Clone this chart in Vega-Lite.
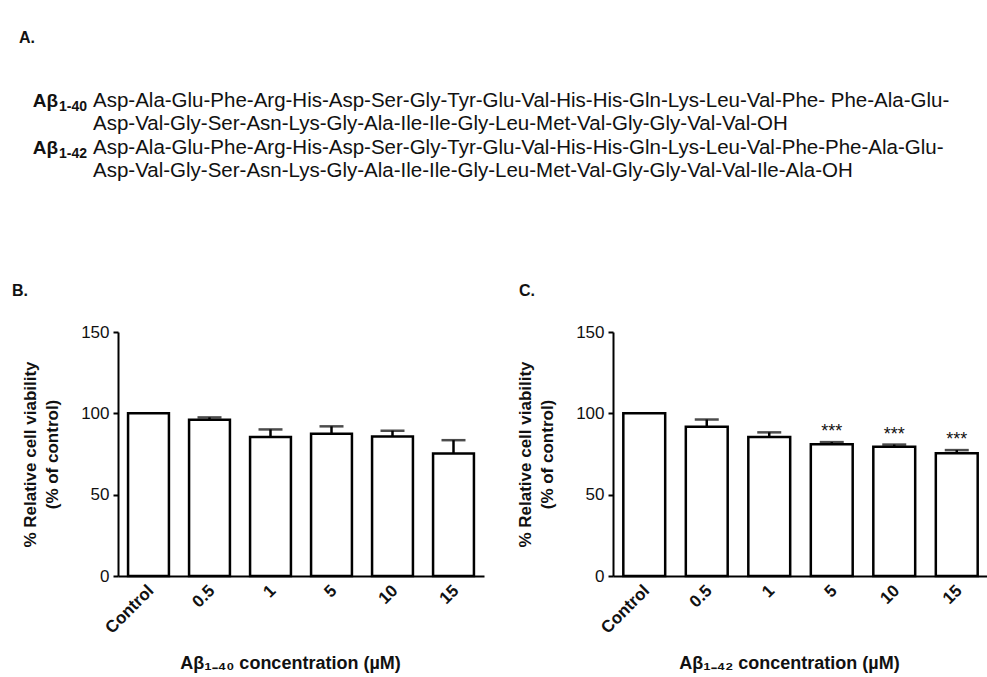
{
  "$schema": "https://vega.github.io/schema/vega-lite/v6.json",
  "background": "white",
  "padding": {"left": 12, "top": 30, "right": 0, "bottom": 0},
  "spacing": 97,
  "config": {
    "view": {"stroke": null},
    "font": "Liberation Sans",
    "axis": {
      "grid": false,
      "domainColor": "black",
      "domainWidth": 2,
      "tickColor": "black",
      "tickWidth": 2,
      "labelColor": "#111",
      "titleColor": "#111",
      "labelFont": "Liberation Sans",
      "titleFont": "Liberation Sans"
    },
    "title": {"font": "Liberation Sans", "color": "#111"}
  },
  "datasets": {
    "seqs": [
      {"line": 1, "label": "Aβ", "sub": "1-40", "seq": "Asp-Ala-Glu-Phe-Arg-His-Asp-Ser-Gly-Tyr-Glu-Val-His-His-Gln-Lys-Leu-Val-Phe- Phe-Ala-Glu-"},
      {"line": 2, "label": "", "sub": "", "seq": "Asp-Val-Gly-Ser-Asn-Lys-Gly-Ala-Ile-Ile-Gly-Leu-Met-Val-Gly-Gly-Val-Val-OH"},
      {"line": 3, "label": "Aβ", "sub": "1-42", "seq": "Asp-Ala-Glu-Phe-Arg-His-Asp-Ser-Gly-Tyr-Glu-Val-His-His-Gln-Lys-Leu-Val-Phe-Phe-Ala-Glu-"},
      {"line": 4, "label": "", "sub": "", "seq": "Asp-Val-Gly-Ser-Asn-Lys-Gly-Ala-Ile-Ile-Gly-Leu-Met-Val-Gly-Gly-Val-Val-Ile-Ala-OH"}
    ],
    "b": [
      {"conc": "Control", "mean": 100, "upper": null, "sig": ""},
      {"conc": "0.5", "mean": 96.1, "upper": 97.5, "sig": ""},
      {"conc": "1", "mean": 85.4, "upper": 90.1, "sig": ""},
      {"conc": "5", "mean": 87.5, "upper": 92.0, "sig": ""},
      {"conc": "10", "mean": 85.8, "upper": 89.3, "sig": ""},
      {"conc": "15", "mean": 75.3, "upper": 83.5, "sig": ""}
    ],
    "c": [
      {"conc": "Control", "mean": 100, "upper": null, "sig": ""},
      {"conc": "0.5", "mean": 91.7, "upper": 96.2, "sig": ""},
      {"conc": "1", "mean": 85.5, "upper": 88.3, "sig": ""},
      {"conc": "5", "mean": 81.0, "upper": 82.3, "sig": "***"},
      {"conc": "10", "mean": 79.4, "upper": 80.8, "sig": "***"},
      {"conc": "15", "mean": 75.4, "upper": 77.4, "sig": "***"}
    ]
  },
  "vconcat": [
    {
      "title": {"text": "A.", "anchor": "start", "frame": "group", "fontSize": 16, "fontWeight": "bold", "dx": -99, "offset": 40},
      "width": 780,
      "height": 100,
      "data": {"name": "seqs"},
      "encoding": {
        "y": {"field": "line", "type": "ordinal", "axis": null, "scale": {"type": "point", "padding": 0.65}}
      },
      "layer": [
        {
          "mark": {"type": "text", "align": "right", "baseline": "middle", "fontSize": 19, "fontWeight": "bold", "color": "#111"},
          "encoding": {"x": {"value": -60}, "text": {"field": "label"}}
        },
        {
          "mark": {"type": "text", "align": "left", "baseline": "middle", "fontSize": 14, "fontWeight": "bold", "dy": 6, "color": "#111"},
          "encoding": {"x": {"value": -59}, "text": {"field": "sub"}}
        },
        {
          "mark": {"type": "text", "align": "left", "baseline": "middle", "fontSize": 20.5, "color": "#111"},
          "encoding": {"x": {"value": -25}, "text": {"field": "seq"}}
        }
      ]
    },
    {
      "hconcat": [
        {
          "width": 366,
          "height": 244,
          "title": {"text": "B.", "anchor": "start", "frame": "bounds", "fontSize": 16, "fontWeight": "bold", "dx": -9, "offset": 24},
          "data": {"name": "b"},
          "encoding": {
            "x": {
              "field": "conc", "type": "nominal", "sort": ["Control", "0.5", "1", "5", "10", "15"],
              "scale": {"paddingInner": 0.33, "paddingOuter": 0.165},
              "axis": {"title": "Aβ₁₋₄₀ concentration (µM)", "titleX": 172, "ticks": false, "labelAngle": -45, "labelFontSize": 17, "labelFontWeight": "bold", "labelPadding": 6, "labelOffset": -3, "titleFontSize": 18, "titleFontWeight": "bold", "titlePadding": 18}
            }
          },
          "layer": [
            {
              "mark": {"type": "rule", "color": "black", "strokeWidth": 2.5},
              "encoding": {
                "y": {"field": "upper", "type": "quantitative", "scale": {"domain": [0, 150], "nice": false},
                  "axis": {"values": [0, 50, 100, 150], "tickSize": 5, "labelFontSize": 17, "labelPadding": 4, "title": ["% Relative cell viability", "(% of control)"], "titleFontSize": 17, "titleFontWeight": "bold", "titleLineHeight": 22, "titlePadding": 18, "minExtent": 39, "maxExtent": 39}},
                "y2": {"field": "mean"}
              }
            },
            {
              "mark": {"type": "tick", "color": "black", "thickness": 2.5, "size": 24, "orient": "horizontal"},
              "encoding": {"y": {"field": "upper", "type": "quantitative"}}
            },
            {
              "mark": {"type": "bar", "fill": "white", "stroke": "black", "strokeWidth": 2.5},
              "encoding": {"y": {"field": "mean", "type": "quantitative"}}
            }
          ]
        },
        {
          "width": 375,
          "height": 244,
          "title": {"text": "C.", "anchor": "start", "frame": "bounds", "fontSize": 16, "fontWeight": "bold", "dx": 3, "offset": 24},
          "data": {"name": "c"},
          "encoding": {
            "x": {
              "field": "conc", "type": "nominal", "sort": ["Control", "0.5", "1", "5", "10", "15"],
              "scale": {"paddingInner": 0.33, "paddingOuter": 0.165},
              "axis": {"title": "Aβ₁₋₄₂ concentration (µM)", "titleX": 176, "ticks": false, "labelAngle": -45, "labelFontSize": 17, "labelFontWeight": "bold", "labelPadding": 6, "labelOffset": -3, "titleFontSize": 18, "titleFontWeight": "bold", "titlePadding": 18}
            }
          },
          "layer": [
            {
              "mark": {"type": "rule", "color": "black", "strokeWidth": 2.5},
              "encoding": {
                "y": {"field": "upper", "type": "quantitative", "scale": {"domain": [0, 150], "nice": false},
                  "axis": {"values": [0, 50, 100, 150], "tickSize": 5, "labelFontSize": 17, "labelPadding": 4, "title": ["% Relative cell viability", "(% of control)"], "titleFontSize": 17, "titleFontWeight": "bold", "titleLineHeight": 22, "titlePadding": 18, "minExtent": 39, "maxExtent": 39}},
                "y2": {"field": "mean"}
              }
            },
            {
              "mark": {"type": "tick", "color": "black", "thickness": 2.5, "size": 24, "orient": "horizontal"},
              "encoding": {"y": {"field": "upper", "type": "quantitative"}}
            },
            {
              "mark": {"type": "bar", "fill": "white", "stroke": "black", "strokeWidth": 2.5},
              "encoding": {"y": {"field": "mean", "type": "quantitative"}}
            },
            {
              "mark": {"type": "text", "baseline": "middle", "fontSize": 18, "dy": -10, "color": "#111"},
              "encoding": {"y": {"field": "upper", "type": "quantitative"}, "text": {"field": "sig"}}
            }
          ]
        }
      ],
      "spacing": 32
    }
  ]
}
